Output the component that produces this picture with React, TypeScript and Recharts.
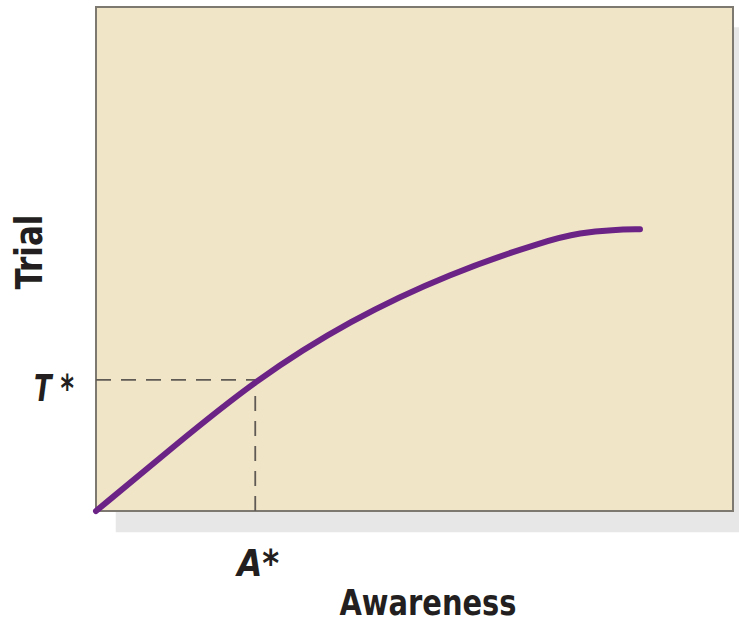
import React from 'react';
import { LineChart, Line, XAxis, YAxis, ReferenceArea, ReferenceLine } from 'recharts';

// awareness (x) and trial (y) in % of the box
const awareness = [0, 12.1, 25.0, 39.9, 55.6, 70.8, 76.0, 81.2, 85.4];
const trial = [0, 12.7, 26.0, 37.9, 47.2, 53.7, 55.2, 55.8, 55.9];

// threshold point marked on the curve
const aStar = 25.0;
const tStar = 26.0;
const xTicks = [aStar];
const yTicks = [tStar];
const xTickLabels = ['A*'];
const yTickLabels = ['T *'];

const data = awareness.map((a, i) => ({ awareness: a, trial: trial[i] }));

const font = "'Liberation Sans Narrow', 'DejaVu Sans Condensed', Arial, sans-serif";

const XTick = (props: any) => {
  const { x, y } = props;
  return (
    <text x={x - 18} y={y + 57} fontFamily={font} fontWeight="bold"
      fontStyle="italic" fontSize={37} fill="#231f20" textLength={42} lengthAdjust="spacingAndGlyphs">
      {xTickLabels[0]}
    </text>
  );
};

const YTick = (props: any) => {
  const { x, y } = props;
  return (
    <text x={x - 54} y={y + 21} fontFamily={font} fontWeight="bold"
      fontStyle="italic" fontSize={37} fill="#231f20" textLength={40} lengthAdjust="spacingAndGlyphs">
      {yTickLabels[0]}
    </text>
  );
};

const App: React.FC = () => {
  return (
    <div style={{ position: 'absolute', left: 0, top: 0, background: '#fff' }}>
      <LineChart width={739} height={621} data={data}
        margin={{ top: 7, right: 6, bottom: 0, left: 0 }}>
        <XAxis dataKey="awareness" type="number" domain={[0, 100]} ticks={xTicks}
          axisLine={false} tickLine={false} height={110} tick={<XTick />}
          label={{
            content: () => (
              <text x={428} y={615} textAnchor="middle" fontFamily={font} fontWeight="bold"
                fontSize={36} fill="#231f20" textLength={177} lengthAdjust="spacingAndGlyphs">
                Awareness
              </text>
            ),
          }} />
        <YAxis dataKey="trial" type="number" domain={[0, 100]} ticks={yTicks}
          axisLine={false} tickLine={false} width={96} tick={<YTick />}
          label={{
            content: () => (
              <text x={42} y={252} transform="rotate(-90 42 252)" textAnchor="middle"
                fontFamily={font} fontWeight="bold" fontSize={37} fill="#231f20"
                textLength={75} lengthAdjust="spacingAndGlyphs">
                Trial
              </text>
            ),
          }} />
        {/* drop shadow behind the box */}
        <ReferenceArea x1={3.1} x2={102} y1={-4.2} y2={96} ifOverflow="visible"
          fill="#e7e7e8" fillOpacity={1} stroke="none" />
        <ReferenceArea x1={0} x2={100} y1={0} y2={100} ifOverflow="visible"
          fill="#f1e5c8" fillOpacity={1} stroke="#7d7870" strokeWidth={2} />
        <ReferenceLine segment={[{ x: 0, y: tStar }, { x: aStar, y: tStar }]}
          stroke="#5f5a53" strokeWidth={1.8} strokeDasharray="15 10" ifOverflow="visible" />
        <ReferenceLine segment={[{ x: aStar, y: 0 }, { x: aStar, y: tStar }]}
          stroke="#5f5a53" strokeWidth={1.8} strokeDasharray="15 10" ifOverflow="visible" />
        <Line dataKey="trial" type="basis" stroke="#6c2386" strokeWidth={6}
          strokeLinecap="round" dot={false} activeDot={false} isAnimationActive={false} />
      </LineChart>
    </div>
  );
};

export default App;
